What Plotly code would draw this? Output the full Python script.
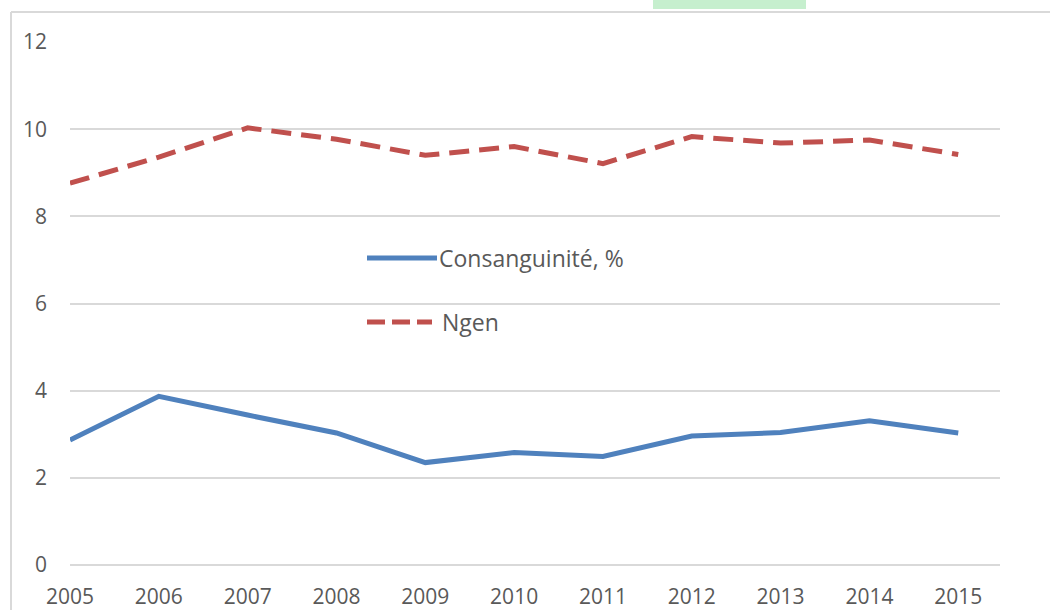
"""Consanguinity and Ngen by year, Excel-style line chart."""
import plotly.graph_objects as go

years = [2005, 2006, 2007, 2008, 2009, 2010, 2011, 2012, 2013, 2014, 2015]
consanguinite = [2.87, 3.87, 3.44, 3.03, 2.35, 2.58, 2.49, 2.96, 3.04, 3.31, 3.03]
ngen = [8.76, 9.36, 10.03, 9.77, 9.40, 9.60, 9.21, 9.83, 9.68, 9.75, 9.42]
y_ticks = [0, 2, 4, 6, 8, 10, 12]
legend_labels = ["Consanguinité, %", "Ngen"]

BLUE = "#4f81bd"
RED = "#c0504d"
GRID = "#d9d9d9"
TEXT = "#595959"
FONT = "Open Sans"

fig = go.Figure()

fig.add_trace(go.Scatter(
    x=years, y=consanguinite, mode="lines", name=legend_labels[0],
    line=dict(color=BLUE, width=5), showlegend=False,
))
fig.add_trace(go.Scatter(
    x=years, y=ngen, mode="lines", name=legend_labels[1],
    line=dict(color=RED, width=5, dash="20px,10px"), showlegend=False,
))

# Plot area is 70..1000 px wide and 42..565 px high
W, H = 1050, 610
L, R, T, B = 70, 50, 42, 45
pw, ph = W - L - R, H - T - B


def px(x):
    return (x - L) / pw


def py(y):
    return (H - B - y) / ph


shapes = [
    # outer frame of the embedded chart (cut by the screenshot)
    dict(type="line", xref="paper", yref="paper", x0=px(11), x1=px(1060),
         y0=py(12), y1=py(12), line=dict(color="#d9d9d9", width=2)),
    dict(type="line", xref="paper", yref="paper", x0=px(11), x1=px(11),
         y0=py(12), y1=py(615), line=dict(color="#d9d9d9", width=2)),
    # green highlight of the caption above
    dict(type="rect", xref="paper", yref="paper", x0=px(653), x1=px(806),
         y0=py(9), y1=py(-5), fillcolor="#c6efce", line=dict(width=0), layer="below"),
    # manual legend samples
    dict(type="line", xref="paper", yref="paper", x0=px(367), x1=px(437),
         y0=py(258), y1=py(258), line=dict(color=BLUE, width=5)),
    dict(type="line", xref="paper", yref="paper", x0=px(367), x1=px(432),
         y0=py(322), y1=py(322), line=dict(color=RED, width=5, dash="18px,7px")),
]

annotations = [
    dict(xref="paper", yref="paper", x=px(437), y=py(258), text=legend_labels[0],
         showarrow=False, xanchor="left", yanchor="middle",
         font=dict(family=FONT, size=23, color=TEXT)),
    dict(xref="paper", yref="paper", x=px(440), y=py(322), text=legend_labels[1],
         showarrow=False, xanchor="left", yanchor="middle",
         font=dict(family=FONT, size=23, color=TEXT)),
]

fig.update_layout(
    width=W, height=H,
    margin=dict(l=L, r=R, t=T, b=B),
    paper_bgcolor="white", plot_bgcolor="white",
    font=dict(family=FONT, size=21, color=TEXT),
    shapes=shapes, annotations=annotations,
    xaxis=dict(
        range=[2005, 2015.47], tickmode="array", tickvals=years,
        ticktext=[str(y) for y in years], showgrid=False, zeroline=False,
        showline=False, ticks="outside", ticklen=13, tickcolor="rgba(0,0,0,0)",
        automargin=False,
        tickfont=dict(family=FONT, size=21, color=TEXT),
    ),
    yaxis=dict(
        range=[0, 12], tickvals=y_ticks, showgrid=True, gridcolor=GRID,
        gridwidth=1.5, zeroline=True, zerolinecolor=GRID, zerolinewidth=1.5,
        showline=False, ticks="", ticklabelstandoff=22, automargin=False,
        tickfont=dict(family=FONT, size=21, color=TEXT),
    ),
)

# the page's default 8px body margin would shift and crop the figure
fig.write_html("out.html", config={"displayModeBar": False},
               post_script="document.body.style.margin='0';")
